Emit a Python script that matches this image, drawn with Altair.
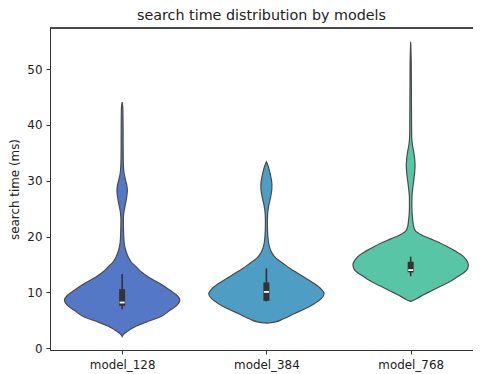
import altair as alt
import pandas as pd

models = ["model_128", "model_384", "model_768"]
colors = ["#5478c6", "#4e9dc4", "#58c6a6"]

# violin outlines: search time (ms) and relative density (1 = widest)
v128 = [2.1, 2.6, 3.0, 3.8, 4.7, 5.6, 6.8, 7.7, 8.6, 9.5, 10.4, 11.6, 12.8, 13.7, 14.6,
        15.5, 16.4, 17.6, 19.0, 21.0, 23.0, 24.2, 25.2, 26.3, 27.4, 28.3, 29.3, 30.3,
        31.3, 32.5, 34.0, 37.0, 40.0, 43.0, 44.1]
d128 = [0.0, 0.034, 0.086, 0.207, 0.414, 0.655, 0.828, 0.948, 1.0, 0.948, 0.828, 0.655,
        0.448, 0.328, 0.241, 0.155, 0.103, 0.060, 0.034, 0.024, 0.021, 0.028, 0.045,
        0.066, 0.083, 0.090, 0.079, 0.055, 0.034, 0.024, 0.019, 0.017, 0.016, 0.012, 0.0]

v384 = [4.5, 4.7, 5.2, 6.2, 7.1, 8.0, 8.9, 9.8, 10.6, 11.6, 12.5, 13.4, 14.3, 15.2, 16.1,
        17.0, 18.2, 19.9, 21.5, 22.5, 23.5, 24.4, 25.2, 25.9, 26.8, 27.7, 28.6, 29.4,
        30.3, 31.2, 32.0, 32.7, 33.4]
d384 = [0.0, 0.14, 0.28, 0.48, 0.67, 0.83, 0.95, 1.0, 0.95, 0.83, 0.69, 0.55, 0.41, 0.29,
        0.17, 0.10, 0.052, 0.026, 0.019, 0.017, 0.019, 0.024, 0.034, 0.047, 0.067, 0.084,
        0.095, 0.095, 0.084, 0.067, 0.048, 0.028, 0.0]

v768 = [8.4, 8.8, 9.6, 10.4, 11.2, 12.0, 12.8, 13.5, 14.2, 15.0, 15.8, 16.6, 17.4, 18.2,
        19.0, 19.6, 20.3, 21.0, 21.8, 22.8, 24.0, 25.5, 27.0, 28.5, 30.0, 31.5, 32.7,
        33.9, 35.2, 36.4, 37.6, 39.0, 43.0, 47.0, 51.0, 54.9]
d768 = [0.0, 0.086, 0.224, 0.38, 0.534, 0.69, 0.81, 0.914, 0.983, 1.0, 0.966, 0.897,
        0.776, 0.638, 0.483, 0.345, 0.19, 0.086, 0.052, 0.038, 0.026, 0.021, 0.022,
        0.034, 0.052, 0.069, 0.076, 0.069, 0.052, 0.031, 0.019, 0.016, 0.014, 0.012,
        0.010, 0.0]

# inner box plot statistics
whisk_lo = [7.0, 8.4, 12.9]
q1 = [7.6, 8.5, 13.6]
median = [8.2, 10.1, 14.0]
q3 = [10.6, 11.8, 15.5]
whisk_hi = [13.3, 14.3, 16.4]

rows = []
for i, (vs, ds) in enumerate([(v128, d128), (v384, d384), (v768, d768)]):
    for v, d in zip(vs, ds):
        rows.append({"model": models[i], "idx": i, "v": v, "d": d})
violin_df = pd.DataFrame(rows)

box_df = pd.DataFrame({
    "model": models, "idx": [0, 1, 2],
    "wlo": whisk_lo, "q1": q1, "med": median, "q3": q3, "whi": whisk_hi,
})

label_expr = "[" + ",".join("'%s'" % m for m in models) + "][datum.value]"

xscale = alt.Scale(domain=[-0.5, 2.432], nice=False, zero=False)
yscale = alt.Scale(domain=[-0.3, 57.35], nice=False, zero=False)

xaxis = alt.Axis(values=[0, 1, 2], labelExpr=label_expr, title=None, grid=False,
                 tickSize=4, labelPadding=5, labelFontSize=11.9, labelColor="#222222",
                 domainColor="#333333", tickColor="#333333", labelFont="DejaVu Sans")
yaxis = alt.Axis(values=[0, 10, 20, 30, 40, 50], title="search time (ms)", grid=False,
                 tickSize=4, labelPadding=4, labelFontSize=11.9, titleFontSize=11.9,
                 titleFontWeight="normal", titleColor="#222222", labelColor="#222222",
                 domainColor="#333333", tickColor="#333333", titlePadding=6,
                 labelFont="DejaVu Sans", titleFont="DejaVu Sans")

violins = alt.Chart(violin_df).transform_calculate(
    left="datum.idx - 0.4 * datum.d",
    right="datum.idx + 0.4 * datum.d",
).mark_area(orient="horizontal", interpolate="monotone", stroke="#4a4a4a",
            strokeWidth=1.2, opacity=1).encode(
    y=alt.Y("v:Q", scale=yscale, axis=yaxis),
    x=alt.X("left:Q", scale=xscale, axis=xaxis),
    x2="right:Q",
    color=alt.Color("model:N", scale=alt.Scale(domain=models, range=colors), legend=None),
    detail="model:N",
)

whisk = alt.Chart(box_df).mark_rule(color="#333333", strokeWidth=1.6).encode(
    x=alt.X("idx:Q", scale=xscale),
    y=alt.Y("wlo:Q", scale=yscale),
    y2="whi:Q",
)
box = alt.Chart(box_df).mark_rule(color="#333333", strokeWidth=6).encode(
    x=alt.X("idx:Q", scale=xscale),
    y=alt.Y("q1:Q", scale=yscale),
    y2="q3:Q",
)
med = alt.Chart(box_df).mark_tick(color="white", orient="horizontal", size=5,
                                  thickness=1.8, opacity=1).encode(
    x=alt.X("idx:Q", scale=xscale),
    y=alt.Y("med:Q", scale=yscale),
)
top_spine = alt.Chart(box_df).mark_rule(color="#333333", strokeWidth=1).encode(
    y=alt.value(0)
)

chart = alt.layer(violins, whisk, box, med, top_spine).properties(
    width=423, height=322,
    title=alt.TitleParams("search time distribution by models", fontSize=14.3,
                          font="DejaVu Sans", fontWeight="normal", color="#222222",
                          anchor="middle", offset=4),
    autosize=alt.AutoSizeParams(type="none"),
    padding={"left": 42, "top": 20, "right": 0, "bottom": 24},
).configure_view(stroke=None).configure(background="white")

chart.save("out.html", embed_options={"renderer": "svg", "actions": False})
